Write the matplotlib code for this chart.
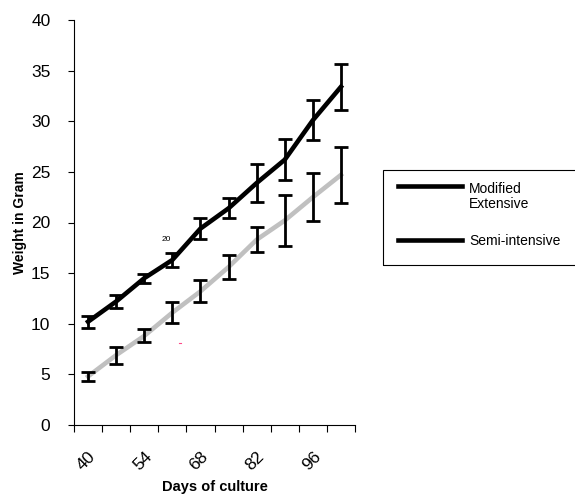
import numpy as np
import matplotlib.pyplot as plt
from matplotlib.patches import Rectangle
from matplotlib.lines import Line2D

plt.rcParams['font.family'] = ['Liberation Sans', 'DejaVu Sans']

days = [40, 47, 54, 61, 68, 75, 82, 89, 96, 103]
modified = [10.2, 12.2, 14.5, 16.3, 19.4, 21.4, 23.9, 26.2, 30.1, 33.4]
modified_err = [0.6, 0.65, 0.45, 0.7, 1.05, 1.0, 1.9, 2.0, 1.95, 2.3]
semi = [4.8, 6.9, 8.8, 11.1, 13.2, 15.6, 18.3, 20.2, 22.5, 24.7]
semi_err = [0.45, 0.85, 0.65, 1.0, 1.1, 1.2, 1.25, 2.5, 2.35, 2.8]
labels = ["Modified\nExtensive", "Semi-intensive"]

fig = plt.figure(figsize=(5.75, 4.97), dpi=100)
ax = fig.add_axes([74/575, 72/497, 281/575, 405/497])

x = np.arange(len(days))

# Semi-intensive (grey line, black error bars)
ax.plot(x, semi, color="#c0c0c0", lw=3.3, zorder=2)
ax.errorbar(x, semi, yerr=semi_err, fmt="none", ecolor="black",
            elinewidth=2.0, capsize=5, capthick=2.0, zorder=3)

# Modified extensive
ax.plot(x, modified, color="black", lw=3.3, zorder=4)
ax.errorbar(x, modified, yerr=modified_err, fmt="none", ecolor="black",
            elinewidth=2.0, capsize=5, capthick=2.0, zorder=5)

ax.set_xlim(-0.5, len(days) - 0.5)
ax.set_ylim(0, 40)
ax.set_yticks(range(0, 41, 5))
ax.tick_params(axis="y", labelsize=12.5, length=4, pad=13)

ax.set_xticks(np.arange(-0.5, len(days), 1))
ax.set_xticklabels([])
ax.tick_params(axis="x", which="major", length=5, direction="out")
ax.set_xticks(x[::2], minor=True)
ax.set_xticklabels([str(d) for d in days[::2]], minor=True, rotation=45,
                   ha="right", rotation_mode="anchor", fontsize=12.5)
ax.tick_params(axis="x", which="minor", length=0, pad=17)

for s in ["top", "right"]:
    ax.spines[s].set_visible(False)

ax.set_xlabel("Days of culture", fontsize=10.5, fontweight="bold", labelpad=5)
ax.set_ylabel("Weight in Gram", fontsize=10, fontweight="bold", labelpad=3)

# stray marks from the original
ax.text(2.79, 18.3, "20", fontsize=6, ha="center", va="center")
ax.plot([3.22, 3.3], [8.1, 8.1], color="#ff4a8a", lw=0.8)

# legend box
W, H = 575, 497
fig.add_artist(Rectangle((383/W, 1 - 265/H), 200/W, 95/H, transform=fig.transFigure,
                         fill=False, edgecolor="black", lw=0.8))
fig.add_artist(Line2D([398/W, 462/W], [1 - 186/H, 1 - 186/H], transform=fig.transFigure,
                      color="black", lw=3.3))
fig.add_artist(Line2D([398/W, 462/W], [1 - 240/H, 1 - 240/H], transform=fig.transFigure,
                      color="black", lw=3.3))
fig.text(469/W, 1 - 182/H, labels[0], fontsize=10, va="top", ha="left", linespacing=1.1)
fig.text(469/W, 1 - 241/H, labels[1], fontsize=10, va="center", ha="left")

fig.savefig("out.png", dpi=100)
